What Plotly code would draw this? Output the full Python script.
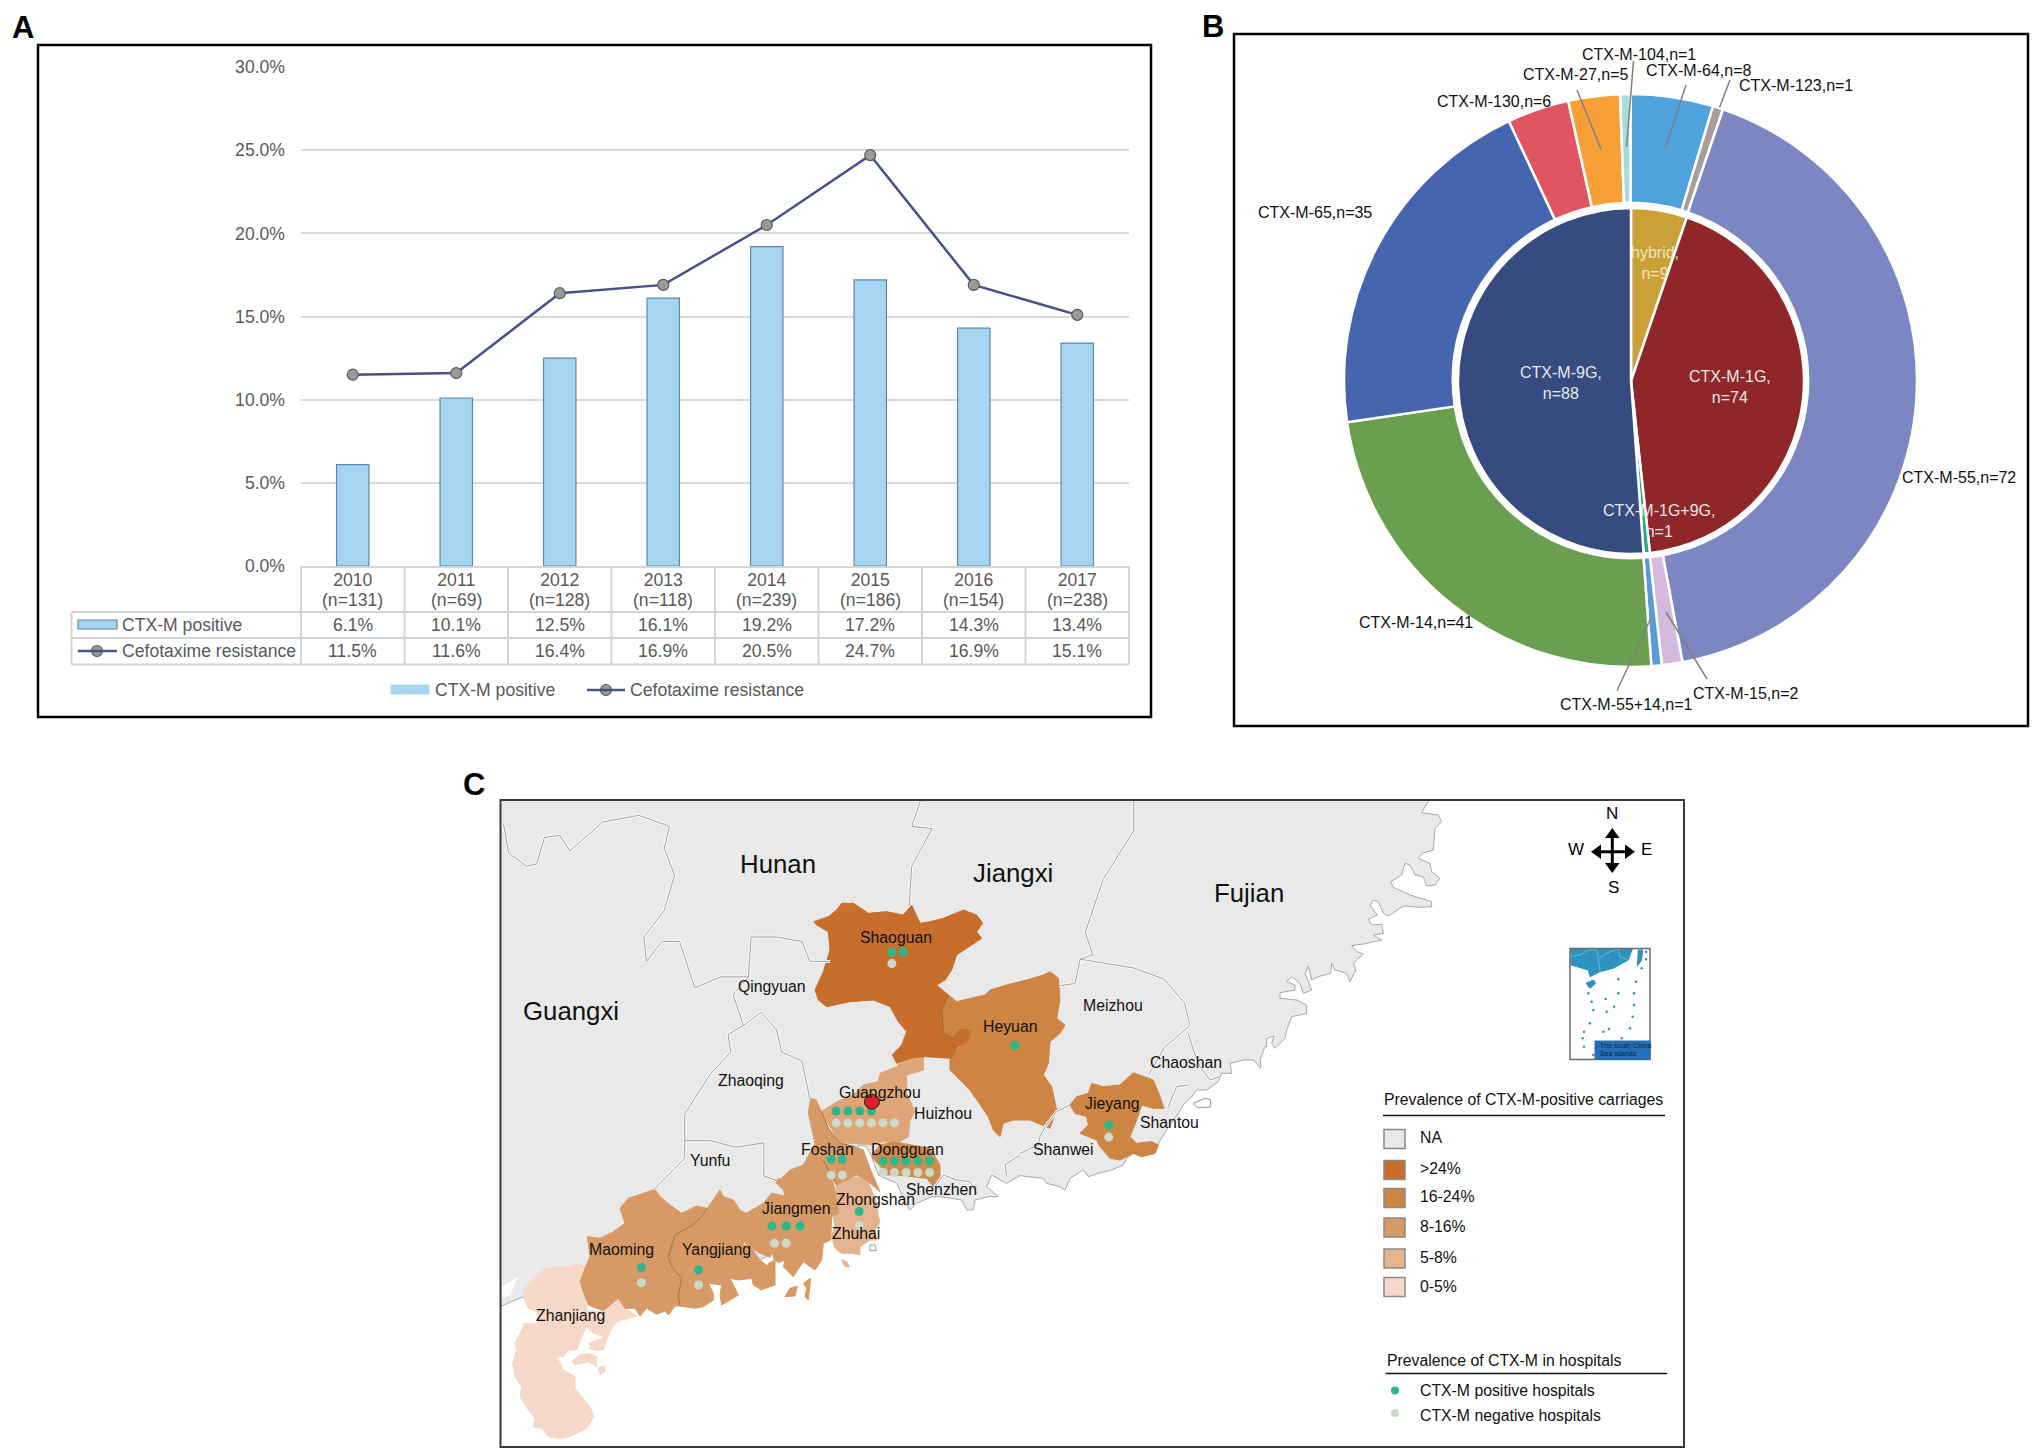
import numpy as np
import plotly.graph_objects as go

FONT = "Liberation Sans"
W, H = 2033, 1454

# Panel A data
years = ["2010", "2011", "2012", "2013", "2014", "2015", "2016", "2017"]
sample_n = [131, 69, 128, 118, 239, 186, 154, 238]
ctx_positive = [6.1, 10.1, 12.5, 16.1, 19.2, 17.2, 14.3, 13.4]
cefotaxime = [11.5, 11.6, 16.4, 16.9, 20.5, 24.7, 16.9, 15.1]
y_ticks = [0, 5, 10, 15, 20, 25, 30]

# Panel B data
outer_labels = ["CTX-M-64,n=8", "CTX-M-123,n=1", "CTX-M-55,n=72", "CTX-M-15,n=2", "CTX-M-55+14,n=1",
                "CTX-M-14,n=41", "CTX-M-65,n=35", "CTX-M-130,n=6", "CTX-M-27,n=5", "CTX-M-104,n=1"]
outer_values = [8, 1, 72, 2, 1, 41, 35, 6, 5, 1]
outer_colors = ["#4FA2DB", "#A89C9C", "#7B86C2", "#D4BBDD", "#5B9BD5",
                "#6A9F50", "#4566AF", "#E0555F", "#F8A038", "#A9DDD9"]
inner_labels = ["hybrid", "CTX-M-1G", "CTX-M-1G+9G", "CTX-M-9G"]
inner_values = [9, 74, 1, 88]
inner_colors = ["#C9A137", "#8E262A", "#2AA87F", "#364C80"]


# outlines below were traced on 3x crops, this puts them back on the page
def crop(x0, y0, pts):
    return [(x0 + p[0] / 3, y0 + p[1] / 3) for p in pts]


def sw(pts):
    return crop(500, 1180, pts)


def mid(pts):
    return crop(740, 1040, pts)


def north(pts):
    return crop(800, 890, pts)


def east(pts):
    return crop(1020, 1030, pts)


def fuj(pts):
    return crop(1250, 800, pts)


def page(pts):
    # first pass of the tracing, on the squashed whole map crop
    return [(450 + p[0] * 0.5102, 760 + p[1] * 0.4426) for p in pts]


land = ([(500, 800), (1429, 800)]
        + fuj([(515, 38), (565, 45), (575, 65), (555, 85), (550, 150), (515, 160), (505, 175), (540, 190), (545, 215),
               (570, 235), (555, 255), (530, 258), (520, 230), (495, 225), (480, 195), (465, 190), (455, 225), (422, 245),
               (430, 262), (480, 285), (545, 305), (545, 320), (510, 322), (460, 318), (415, 348), (400, 340), (385, 305),
               (370, 300), (360, 315), (382, 345), (355, 358), (365, 375), (395, 372), (400, 400), (370, 405), (395, 420),
               (340, 432), (305, 437), (320, 455), (340, 462), (310, 490), (317, 510), (300, 545), (290, 520), (255, 510),
               (245, 490), (242, 520), (205, 530), (185, 540), (175, 500), (165, 520), (185, 570), (160, 580), (150, 550),
               (125, 530), (110, 545), (135, 555), (135, 570), (90, 578), (90, 595), (140, 600), (170, 615), (170, 640),
               (125, 650), (110, 690), (105, 715), (75, 745), (65, 730), (72, 708), (50, 715), (50, 740)])
        + east([(735, 50), (722, 85), (722, 115), (700, 90), (670, 90), (630, 100), (635, 130), (605, 130), (595, 155),
                (560, 180), (530, 180), (515, 200), (490, 225), (475, 250), (440, 300), (415, 340), (405, 370), (365, 380),
                (340, 370), (320, 385), (310, 405), (275, 420), (235, 430), (205, 440), (190, 420), (150, 445), (135, 480),
                (120, 470), (80, 460), (70, 445), (30, 440), (0, 437)])
        + mid([(800, 430), (755, 405), (740, 440), (775, 470), (745, 470), (705, 480), (700, 510), (680, 510), (665, 480),
               (600, 470), (575, 470), (530, 490), (510, 510), (500, 495), (470, 430), (415, 405), (395, 350), (380, 320),
               (355, 315), (340, 400), (300, 500), (100, 640)])
        + sw([(600, 320), (300, 370), (150, 330), (70, 350), (40, 362), (5, 380)])
        + [(500, 1307)])
sea_inlet = sw([(5, 322), (40, 300), (52, 292), (38, 325), (30, 345), (5, 350)])
zhanjiang = sw([(70, 335), (75, 325), (130, 268), (160, 262), (200, 262), (235, 252), (255, 260), (240, 295), (240, 310),
                (255, 355), (262, 392), (300, 395), (350, 355), (370, 380), (410, 408), (385, 415), (350, 425), (335, 445),
                (320, 480), (310, 510), (290, 512), (265, 505), (290, 490), (310, 470), (280, 460), (260, 440), (245, 470),
                (230, 510), (205, 510), (190, 530), (170, 530), (190, 570), (225, 590), (225, 625), (245, 650), (270, 680),
                (282, 710), (260, 745), (210, 770), (185, 775), (145, 770), (125, 745), (100, 740), (105, 715), (85, 690),
                (60, 650), (65, 620), (45, 590), (38, 550), (50, 510), (45, 490), (70, 440), (70, 430), (115, 430),
                (110, 395), (85, 385), (70, 350)])
zhanjiang_a = sw([(215, 545), (240, 525), (270, 520), (290, 530), (290, 560), (265, 545), (225, 555)])
zhanjiang_b = sw([(295, 565), (312, 558), (315, 575), (300, 583)])
zhanjiang_c = sw([(265, 490), (305, 475), (310, 505), (285, 510)])
maoming = sw([(360, 85), (385, 55), (430, 40), (465, 28), (480, 50), (510, 75), (545, 100), (590, 78), (622, 85), (600, 115),
              (570, 140), (525, 165), (505, 230), (515, 260), (545, 295), (535, 345), (540, 378), (525, 378), (505, 405),
              (495, 393), (470, 403), (440, 385), (420, 408), (405, 385), (375, 385), (355, 355), (310, 392), (265, 375),
              (250, 335), (240, 305), (255, 265), (270, 230), (262, 170), (300, 175), (340, 155), (375, 130)])
yangjiang = sw([(622, 85), (640, 60), (660, 30), (670, 50), (700, 60), (720, 90), (745, 105), (735, 125), (730, 195), (755, 205),
                (780, 240), (805, 260), (800, 290), (785, 330), (760, 315), (755, 295), (715, 300), (690, 295), (715, 345),
                (665, 375), (660, 345), (665, 315), (625, 310), (640, 340), (640, 360), (610, 380), (585, 385), (540, 378),
                (535, 345), (545, 295), (515, 260), (505, 230), (525, 165), (570, 140), (600, 115)])
jiangmen = mid([(100, 420), (130, 450), (135, 468), (95, 460), (70, 490), (15, 522), (5, 550), (10, 600), (20, 615), (55, 637),
                (90, 652), (97, 635), (100, 655), (115, 668), (135, 660), (130, 680), (160, 710), (190, 665), (225, 690),
                (245, 660), (250, 610), (272, 600), (275, 530), (300, 520), (290, 470), (275, 410), (250, 360), (190, 375),
                (150, 390), (125, 415)])
jiangmen_w = mid([(85, 670), (105, 660), (105, 735), (62, 750), (55, 735), (80, 715)])
jiangmen_i1 = mid([(135, 770), (150, 745), (172, 738), (165, 768)])
jiangmen_i2 = mid([(190, 730), (212, 715), (205, 780), (195, 770), (200, 745)])
foshan = mid([(212, 175), (228, 180), (245, 215), (265, 265), (300, 310), (345, 320), (370, 330), (390, 385), (420, 455),
              (385, 425), (350, 405), (290, 435), (275, 410), (250, 360), (190, 375), (225, 310), (205, 220)])
guangzhou = mid([(550, 50), (550, 90), (500, 105), (500, 160), (525, 215), (510, 240), (505, 290), (480, 305), (430, 305),
                 (395, 315), (345, 310), (300, 310), (270, 260), (245, 215), (290, 185), (340, 165), (370, 135), (415, 125),
                 (420, 100), (470, 80), (490, 60)])
dongguan = mid([(400, 340), (420, 315), (460, 305), (510, 315), (570, 325), (600, 375), (600, 410), (580, 440), (560, 415),
                (515, 410), (470, 405), (415, 405), (430, 390), (395, 350)])
zhongshan = mid([(290, 435), (350, 410), (385, 425), (410, 490), (415, 530), (420, 545), (405, 570), (410, 600), (390, 600),
                 (360, 620), (360, 645), (335, 640), (305, 640), (285, 625), (278, 600), (272, 590), (285, 560), (280, 530),
                 (300, 520), (290, 470)])
zhuhai_isle = mid([(305, 660), (320, 665), (328, 680), (315, 680)])
shaoguan = north([(42, 95), (85, 80), (110, 60), (125, 40), (160, 40), (205, 70), (260, 65), (310, 75), (335, 45), (360, 100),
                  (390, 95), (430, 85), (490, 60), (530, 75), (548, 100), (530, 125), (545, 145), (500, 175), (470, 195),
                  (455, 240), (435, 270), (410, 285), (445, 315), (425, 360), (430, 430), (460, 445), (480, 420), (500, 418),
                  (515, 425), (500, 455), (475, 470), (455, 505), (375, 500), (330, 505), (290, 520), (277, 495), (305, 465),
                  (320, 425), (295, 395), (270, 350), (220, 330), (150, 335), (80, 350), (55, 330), (45, 300), (70, 245),
                  (90, 180), (85, 125), (50, 105)])
heyuan = north([(430, 345), (445, 315), (470, 335), (510, 325), (555, 315), (570, 300), (620, 285), (680, 270), (730, 255),
                (750, 245), (775, 265), (780, 330), (770, 385), (795, 405), (780, 430), (750, 455), (745, 520), (730, 555),
                (755, 590), (770, 660), (750, 715), (690, 690), (640, 690), (610, 700), (600, 740), (580, 720), (565, 680),
                (510, 600), (450, 540), (450, 510), (480, 470), (500, 455), (515, 425), (500, 418), (480, 420), (460, 445),
                (430, 430), (425, 380)])
jieyang = east([(150, 225), (170, 200), (205, 190), (215, 160), (250, 170), (300, 165), (340, 128), (400, 150), (420, 200),
                (432, 235), (400, 235), (365, 225), (350, 270), (330, 320), (350, 340), (395, 335), (415, 345), (405, 370),
                (365, 380), (340, 370), (300, 390), (270, 385), (240, 350), (230, 330), (180, 310), (205, 285), (200, 260),
                (165, 250)])

C_NA, C_24, C_16, C_8, C_5, C_0 = "#E9E9EA", "#C86E2D", "#CE8442", "#D79A66", "#E4B48F", "#F5D8C8"
regions = [(land, C_NA), (sea_inlet, "#FFFFFF"), (zhanjiang, C_0), (zhanjiang_a, C_0), (zhanjiang_b, C_0), (zhanjiang_c, C_0),
           (maoming, C_8), (yangjiang, C_8), (jiangmen, C_8), (jiangmen_w, C_8), (jiangmen_i1, C_8), (jiangmen_i2, C_8),
           (zhongshan, C_5), (zhuhai_isle, C_5), (foshan, C_8), (guangzhou, "#DEA676"), (dongguan, "#CF8B4F"),
           (heyuan, C_16), (shaoguan, C_24), (jieyang, C_16)]

# thin darker lines between neighbouring coloured cities
inner_borders = [
    sw([(622, 85), (600, 115), (570, 140), (525, 165), (505, 230), (515, 260), (545, 295), (535, 345), (540, 378)]),
    north([(445, 315), (425, 360), (430, 430), (460, 445), (480, 420)]),
    mid([(245, 215), (265, 265), (300, 310), (345, 320)]),
    mid([(250, 360), (275, 410), (290, 435)]),
]

borders = [
    page([(105, 145), (115, 210), (150, 240), (170, 235), (185, 175), (215, 170), (235, 205), (300, 140), (370, 125),
          (430, 150), (420, 200), (440, 260), (420, 340), (380, 400), (385, 455), (415, 410), (450, 410), (480, 515),
          (530, 490), (585, 490), (590, 400), (640, 400), (690, 410), (705, 455), (745, 455)]),
    page([(922, 92), (905, 150), (945, 155), (905, 240), (900, 330)]),
    page([(1340, 92), (1340, 160), (1280, 270), (1245, 390), (1260, 440), (1235, 450), (1225, 505), (1195, 510)]),
    page([(1235, 450), (1290, 460), (1340, 470), (1400, 495), (1440, 550), (1450, 600), (1400, 650), (1370, 710)]),
    page([(585, 490), (555, 530), (575, 600), (610, 570), (640, 610), (650, 660), (690, 680), (705, 765)]),
    page([(575, 600), (545, 620), (550, 660), (510, 710), (460, 800), (460, 860), (510, 860), (560, 875), (615, 865),
          (615, 940), (640, 950)]),
    page([(460, 860), (460, 900), (400, 970)]),
    east([(150, 225), (110, 245), (75, 290), (60, 320), (55, 345), (0, 370)]),
    east([(505, 10), (520, 60), (540, 110), (570, 150), (600, 140)]),
    east([(505, 165), (470, 170), (445, 230)]),
    mid([(585, 440), (610, 405), (650, 420), (690, 425), (710, 460)]),
    mid([(840, 345), (795, 375), (800, 405)]),
    mid([(390, 615), (405, 615), (408, 632), (390, 632), (390, 615)]),
    east([(520, 220), (555, 205), (572, 210), (570, 232), (530, 232), (520, 220)]),
]

# hospitals and names, read on the whole map crop
pos_u = [866, 888, 1107, 1291, 757, 780, 803, 826, 747, 769, 849, 871, 894, 917, 940, 802, 631, 659, 686, 375, 487]
pos_v = [434, 434, 645, 825, 793, 793, 793, 793, 902, 902, 906, 906, 906, 906, 906, 1020, 1053, 1053, 1053, 1146, 1152]
neg_u = [866, 1291, 757, 780, 803, 826, 849, 871, 747, 769, 849, 871, 894, 917, 940, 802, 636, 659, 375, 487]
neg_v = [460, 852, 820, 820, 820, 820, 820, 820, 938, 938, 932, 932, 932, 932, 932, 1052, 1092, 1092, 1181, 1186]

province_names = ["Hunan", "Jiangxi", "Fujian", "Guangxi"]
province_u = [642, 1104, 1566, 237]
province_v = [235, 256, 300, 567]
city_names = ["Shaoguan", "Qingyuan", "Meizhou", "Heyuan", "Chaoshan", "Zhaoqing", "Guangzhou", "Huizhou", "Jieyang",
              "Shantou", "Shanwei", "Foshan", "Dongguan", "Yunfu", "Shenzhen", "Zhongshan", "Jiangmen", "Zhuhai",
              "Maoming", "Yangjiang", "Zhanjiang"]
city_u = [874, 632, 1299, 1098, 1442, 590, 842, 967, 1298, 1410, 1203, 740, 897, 510, 964, 834, 680, 795, 337, 522, 237]
city_v = [401, 512, 554, 603, 683, 723, 752, 799, 776, 818, 881, 881, 881, 905, 970, 994, 1013, 1070, 1105, 1105, 1254]

legend_names = ["NA", ">24%", "16-24%", "8-16%", "5-8%", "0-5%"]
legend_colors = [C_NA, C_24, C_16, C_8, C_5, C_0]

# inset map
inset_land = crop(1560, 800, [(33, 447), (217, 447), (205, 480), (160, 505), (120, 515), (100, 525), (90, 530), (85, 510), (33, 495)])
inset_taiwan = crop(1560, 800, [(235, 450), (248, 450), (245, 480), (232, 498)])
inset_hainan = crop(1560, 800, [(78, 550), (100, 540), (107, 550), (90, 565)])
inset_lines = [crop(1560, 800, [(33, 470), (60, 465), (85, 450), (110, 450), (115, 475), (150, 455), (175, 447)]),
               crop(1560, 800, [(115, 475), (120, 515)]), crop(1560, 800, [(175, 447), (180, 470), (205, 480)])]
inset_dash_x = [85, 95, 100, 90, 72, 68, 72, 100, 175, 175, 137, 162, 140, 130, 147, 185, 210, 218, 222, 222, 228, 245, 258, 258]
inset_dash_y = [580, 605, 630, 670, 695, 715, 740, 765, 538, 580, 597, 620, 635, 695, 687, 715, 685, 650, 615, 580, 545, 505, 478, 455]

fig = go.Figure()

shapes = []
notes = []


def rect(x0, y0, x1, y1, line="#000000", width=2, fill=None):
    shapes.append(dict(type="rect", xref="x3", yref="y3", x0=x0, y0=y0, x1=x1, y1=y1,
                       line=dict(color=line, width=width), fillcolor=fill))


def seg(x0, y0, x1, y1, color="#d4d4d4", width=2):
    shapes.append(dict(type="line", xref="x3", yref="y3", x0=x0, y0=y0, x1=x1, y1=y1,
                       line=dict(color=color, width=width)))


def text(x, y, s, size=16, color="#111111", anchor="center", bold=False):
    notes.append(dict(xref="x3", yref="y3", x=x, y=y, text="<b>%s</b>" % s if bold else s, showarrow=False,
                      xanchor=anchor, yanchor="middle", align="center",
                      font=dict(family=FONT, size=size, color=color)))


def unzip(poly):
    return [p[0] for p in poly] + [poly[0][0]], [p[1] for p in poly] + [poly[0][1]]


def u2x(u):
    return 450 + np.array(u) * 0.5102


def v2y(v):
    return 760 + np.array(v) * 0.4426


def joined(lines):
    xs, ys = [], []
    for b in lines:
        xs += [p[0] for p in b] + [None]
        ys += [p[1] for p in b] + [None]
    return xs, ys


TXT = "#595959"
TS = 17.6
MAP_TS = 15.8

# Panel A bars and line
fig.add_trace(go.Bar(x=years, y=ctx_positive, width=0.313, name="CTX-M positive", showlegend=False,
                     marker=dict(color="#A6D5F2", line=dict(color="#5F86AE", width=1.2))))
fig.add_trace(go.Scatter(x=years, y=cefotaxime, mode="lines+markers", name="Cefotaxime resistance", showlegend=False,
                         line=dict(color="#4A5088", width=2.5),
                         marker=dict(size=11, color="#9A9A9A", line=dict(color="#5A5A5A", width=1.2))))

# Panel B doughnut
fig.add_trace(go.Pie(values=outer_values, labels=outer_labels, sort=False, direction="clockwise", rotation=0,
                     hole=0.62, textinfo="none", showlegend=False,
                     domain=dict(x=[1344 / W, 1917 / W], y=[1 - 667 / H, 1 - 94 / H]),
                     marker=dict(colors=outer_colors, line=dict(color="white", width=2.5))))
fig.add_trace(go.Pie(values=inner_values, labels=inner_labels, sort=False, direction="clockwise", rotation=0,
                     textinfo="none", showlegend=False,
                     domain=dict(x=[1458 / W, 1804 / W], y=[1 - 554 / H, 1 - 208 / H]),
                     marker=dict(colors=inner_colors, line=dict(color="white", width=2.5))))

# Panel C map
for poly, col in regions:
    xs, ys = unzip(poly)
    fig.add_trace(go.Scatter(x=xs, y=ys, xaxis="x2", yaxis="y2", mode="lines", fill="toself", fillcolor=col,
                             line=dict(color="#a8a8a8" if col == C_NA else col, width=1), hoverinfo="skip", showlegend=False))
bx, by = joined(borders)
fig.add_trace(go.Scatter(x=bx, y=by, xaxis="x2", yaxis="y2", mode="lines", line=dict(color="#f8f8f8", width=3),
                         hoverinfo="skip", showlegend=False))
fig.add_trace(go.Scatter(x=bx, y=by, xaxis="x2", yaxis="y2", mode="lines", line=dict(color="#a0a0a0", width=1),
                         hoverinfo="skip", showlegend=False))
nx, ny = joined(inner_borders)
fig.add_trace(go.Scatter(x=nx, y=ny, xaxis="x2", yaxis="y2", mode="lines", line=dict(color="#96683E", width=0.8),
                         hoverinfo="skip", showlegend=False))
fig.add_trace(go.Scatter(x=u2x(pos_u), y=v2y(pos_v), xaxis="x2", yaxis="y2", mode="markers", name="CTX-M positive hospitals",
                         marker=dict(size=9, color="#2DB88C"), showlegend=False))
fig.add_trace(go.Scatter(x=u2x(neg_u), y=v2y(neg_v), xaxis="x2", yaxis="y2", mode="markers", name="CTX-M negative hospitals",
                         marker=dict(size=9, color="#CDDACA"), showlegend=False))
fig.add_trace(go.Scatter(x=u2x([827]), y=v2y([772]), xaxis="x2", yaxis="y2", mode="markers", name="Guangzhou",
                         marker=dict(size=15, color="#D8202A", line=dict(color="#222222", width=1)), showlegend=False))

# Overlay, one unit is one pixel of the page
fig.add_trace(go.Scatter(x=[97, 606], y=[651, 690], xaxis="x3", yaxis="y3", mode="markers", hoverinfo="skip",
                         marker=dict(size=11, color="#9A9A9A", line=dict(color="#5A5A5A", width=1.2)), showlegend=False))
fig.add_trace(go.Scatter(x=[1395], y=[1390.6], xaxis="x3", yaxis="y3", mode="markers", hoverinfo="skip",
                         marker=dict(size=8, color="#2DB88C"), showlegend=False))
fig.add_trace(go.Scatter(x=[1395], y=[1413], xaxis="x3", yaxis="y3", mode="markers", hoverinfo="skip",
                         marker=dict(size=8, color="#CDDACA"), showlegend=False))
for poly in [inset_land, inset_taiwan, inset_hainan]:
    xs, ys = unzip(poly)
    fig.add_trace(go.Scatter(x=xs, y=ys, xaxis="x3", yaxis="y3", mode="lines",
                             fill="toself", fillcolor="#2C93BE", line=dict(color="#2C93BE", width=1),
                             hoverinfo="skip", showlegend=False))
ix, iy = joined(inset_lines)
fig.add_trace(go.Scatter(x=ix, y=iy, xaxis="x3", yaxis="y3", mode="lines", line=dict(color="#8CC6DE", width=0.7),
                         hoverinfo="skip", showlegend=False))
fig.add_trace(go.Scatter(x=1560 + np.array(inset_dash_x) / 3, y=800 + np.array(inset_dash_y) / 3, xaxis="x3", yaxis="y3",
                         mode="markers", marker=dict(size=2.5, color="#2C93BE"), hoverinfo="skip", showlegend=False))

# Panel frames and letters
rect(38, 45, 1151, 717, width=2.5)
rect(1234, 34, 2028, 726, width=2.5)
rect(500.5, 800, 1684, 1447, line="#3a3a3a", width=2)
text(23, 27, "A", size=31, color="#000000", bold=True)
text(1213, 26, "B", size=31, color="#000000", bold=True)
text(474, 784, "C", size=31, color="#000000", bold=True)

# Panel A table under the axis
col_edges = [301 + i * (1129 - 301) / 8 for i in range(9)]
for e in col_edges:
    seg(e, 566, e, 664.5)
seg(71.5, 612, 1129, 612)
seg(71.5, 638, 1129, 638)
seg(71.5, 664.5, 1129, 664.5)
seg(71.5, 612, 71.5, 664.5)
for i in range(8):
    cx = (col_edges[i] + col_edges[i + 1]) / 2
    text(cx, 600, "(n=%d)" % sample_n[i], size=TS, color=TXT)
    text(cx, 625, "%.1f%%" % ctx_positive[i], size=TS, color=TXT)
    text(cx, 651, "%.1f%%" % cefotaxime[i], size=TS, color=TXT)
rect(78, 620, 117, 629, line="#5F86AE", width=1.2, fill="#A6D5F2")
seg(78, 651, 117, 651, color="#4A5088", width=2.5)
text(120, 625, "CTX-M positive", size=TS, color=TXT, anchor="left")
text(120, 651, "Cefotaxime resistance", size=TS, color=TXT, anchor="left")
rect(391, 685, 429, 694, line="#A6D5F2", width=1, fill="#A6D5F2")
seg(587, 690, 625, 690, color="#4A5088", width=2.5)
text(433, 690, "CTX-M positive", size=TS, color=TXT, anchor="left")
text(628, 690, "Cefotaxime resistance", size=TS, color=TXT, anchor="left")

# Panel B labels and leader lines
outer_lab_x = [1698.6, 1796, 1959, 1745, 1626.5, 1416, 1315, 1494, 1575, 1639]
outer_lab_y = [70, 85, 477, 693, 704, 622, 212, 101, 74, 54]
for s, x, y in zip(outer_labels, outer_lab_x, outer_lab_y):
    text(x, y, s, size=16)
for x0, y0, x1, y1 in [(1577, 90, 1601, 149), (1633.5, 61, 1626.5, 147), (1686, 85, 1665, 149),
                       (1730, 80, 1719.5, 107.6), (1666, 612, 1707, 679), (1651, 618, 1617, 690.5)]:
    seg(x0, y0, x1, y1, color="#808080", width=1.5)
text(1561, 383, "CTX-M-9G,<br>n=88", size=16, color="#E8E8E8")
text(1730, 387, "CTX-M-1G,<br>n=74", size=16, color="#E8E8E8")
text(1655, 263, "hybrid,<br>n=9", size=16, color="#F0E6C0")
text(1659, 521, "CTX-M-1G+9G,<br>n=1", size=16, color="#E8E8E8")

# Panel C names
for s, x, y in zip(province_names, u2x(province_u), v2y(province_v)):
    notes.append(dict(xref="x2", yref="y2", x=x, y=y, text=s, showarrow=False, font=dict(family=FONT, size=25.8, color="#111111")))
for s, x, y in zip(city_names, u2x(city_u), v2y(city_v)):
    notes.append(dict(xref="x2", yref="y2", x=x, y=y, text=s, showarrow=False, font=dict(family=FONT, size=MAP_TS, color="#111111")))

# Panel C compass
seg(1612.3, 832, 1612.3, 869, color="#000000", width=3)
seg(1595, 851.7, 1631, 851.7, color="#000000", width=3)
for path in ["M1612.3,828 L1605,838 L1619.5,838 Z", "M1612.3,873 L1605,863 L1619.5,863 Z",
             "M1591,851.7 L1601,844.5 L1601,859 Z", "M1635,851.7 L1625,844.5 L1625,859 Z"]:
    shapes.append(dict(type="path", xref="x3", yref="y3", path=path, fillcolor="#000000", line=dict(width=0)))
text(1612, 813, "N", size=17, color="#000000")
text(1576, 849, "W", size=17, color="#000000")
text(1646, 849, "E", size=17, color="#000000")
text(1613, 887, "S", size=17, color="#000000")

# Panel C inset frame and caption
rect(1570, 948.5, 1650, 1059.5, line="#6e6a6e", width=1.5)
rect(1595, 1041, 1650, 1059.5, line="#2470B8", width=1, fill="#2470B8")
text(1598, 1045, "The south China", size=7, color="#10243a", anchor="left")
text(1598, 1053, "Sea islands", size=7, color="#10243a", anchor="left")

# Panel C legend
text(1382, 1099, "Prevalence of CTX-M-positive carriages", size=MAP_TS, anchor="left")
seg(1383, 1115.4, 1665, 1115.4, color="#111111", width=1.5)
swatch_top = [1129.6, 1160.5, 1188.5, 1218, 1249, 1277.5]
swatch_text = [1137, 1168, 1196, 1226, 1257, 1286]
for s, c, y0, ty in zip(legend_names, legend_colors, swatch_top, swatch_text):
    rect(1384, y0, 1405, y0 + 19, line="#8a8a8a", width=1.5, fill=c)
    text(1418, ty, s, size=MAP_TS, anchor="left")
text(1385, 1360, "Prevalence of CTX-M in hospitals", size=MAP_TS, anchor="left")
seg(1385.5, 1373.4, 1667, 1373.4, color="#111111", width=1.5)
text(1418, 1390, "CTX-M positive hospitals", size=MAP_TS, anchor="left")
text(1418, 1415, "CTX-M negative hospitals", size=MAP_TS, anchor="left")

fig.update_layout(
    template="none", width=W, height=H, margin=dict(l=0, r=0, t=0, b=0, pad=0), paper_bgcolor="white",
    plot_bgcolor="rgba(0,0,0,0)", font=dict(family=FONT), shapes=shapes, annotations=notes,
    xaxis=dict(domain=[301 / W, 1129 / W], range=[-0.5, 7.5], type="category", tickmode="array", tickvals=years,
               ticktext=years, showgrid=False, ticks="", zeroline=False,
               showline=True, linecolor="#d4d4d4", linewidth=2, ticklabelstandoff=-3,
               tickfont=dict(family=FONT, size=TS, color=TXT)),
    yaxis=dict(domain=[1 - 566 / H, 1 - 67 / H], range=[0, 30], tickmode="array", tickvals=y_ticks,
               ticktext=["%.1f%%" % v for v in y_ticks], gridcolor="#d9d9d9", gridwidth=2, zeroline=False, ticks="",
               ticklabelstandoff=15, tickfont=dict(family=FONT, size=TS, color=TXT)),
    xaxis2=dict(domain=[500.5 / W, 1684 / W], range=[500.5, 1684], visible=False, anchor="y2"),
    yaxis2=dict(domain=[1 - 1447 / H, 1 - 800 / H], range=[1447, 800], visible=False, anchor="x2"),
    xaxis3=dict(domain=[0, 1], range=[0, W], visible=False, anchor="y3"),
    yaxis3=dict(domain=[0, 1], range=[H, 0], visible=False, anchor="x3"),
)

fig.write_html("out.html", config=dict(displayModeBar=False),
               post_script="document.body.style.margin='0';document.body.style.overflow='hidden';")
